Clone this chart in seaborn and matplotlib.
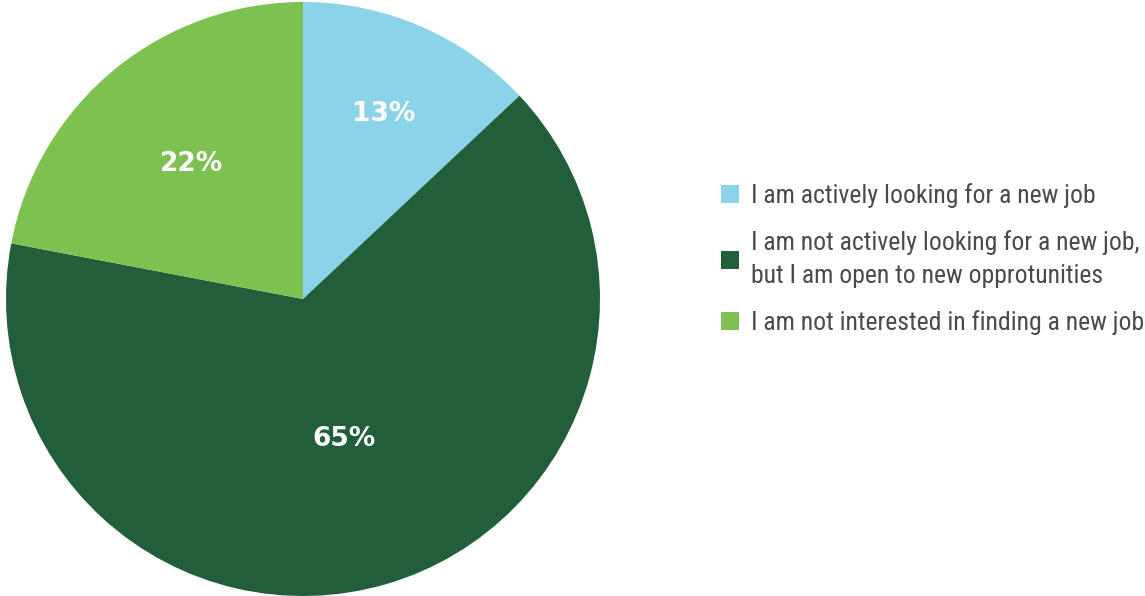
import numpy as np
import matplotlib
matplotlib.use("Agg")
import matplotlib.pyplot as plt
import seaborn as sns

# Data
labels = [
    "I am actively looking for a new job",
    "I am not actively looking for a new job,\nbut I am open to new opprotunities",
    "I am not interested in finding a new job",
]
shares = [13, 65, 22]
colors = ["#8AD3E8", "#225E3A", "#7DC150"]

sns.set_theme(style="white")
plt.rcParams["font.family"] = ["Roboto Condensed", "DejaVu Sans"]

fig = plt.figure(figsize=(11.45, 5.96), dpi=100)
ax = fig.add_axes([6 / 1145, 0.0, 594 / 1145, 594 / 596])

wedges, _ = ax.pie(
    shares,
    colors=colors,
    startangle=90,
    counterclock=False,
    radius=1,
    wedgeprops={"linewidth": 0},
)
ax.set_xlim(-1, 1)
ax.set_ylim(-1, 1)
ax.set_aspect("equal")
ax.axis("off")

# percentage labels, pushed out by a per-slice distance
label_dist = [0.68, 0.49, 0.59]
for w, val, d in zip(wedges, shares, label_dist):
    mid = np.deg2rad((w.theta1 + w.theta2) / 2)
    ax.text(
        d * np.cos(mid),
        d * np.sin(mid),
        f"{val}%",
        ha="center",
        va="center",
        color="white",
        fontsize=19,
        fontweight="bold",
        family="DejaVu Sans",
    )

leg = fig.legend(
    wedges,
    labels,
    loc="center left",
    bbox_to_anchor=(698 / 1145, 1 - 259 / 596),
    frameon=False,
    fontsize=18.5,
    handlelength=0.7,
    handleheight=0.7,
    handletextpad=0.45,
    labelspacing=0.85,
    labelcolor="#4a4a4a",
)
for t in leg.get_texts():
    t.set_linespacing(1.5)

fig.savefig("out.png", dpi=100)
